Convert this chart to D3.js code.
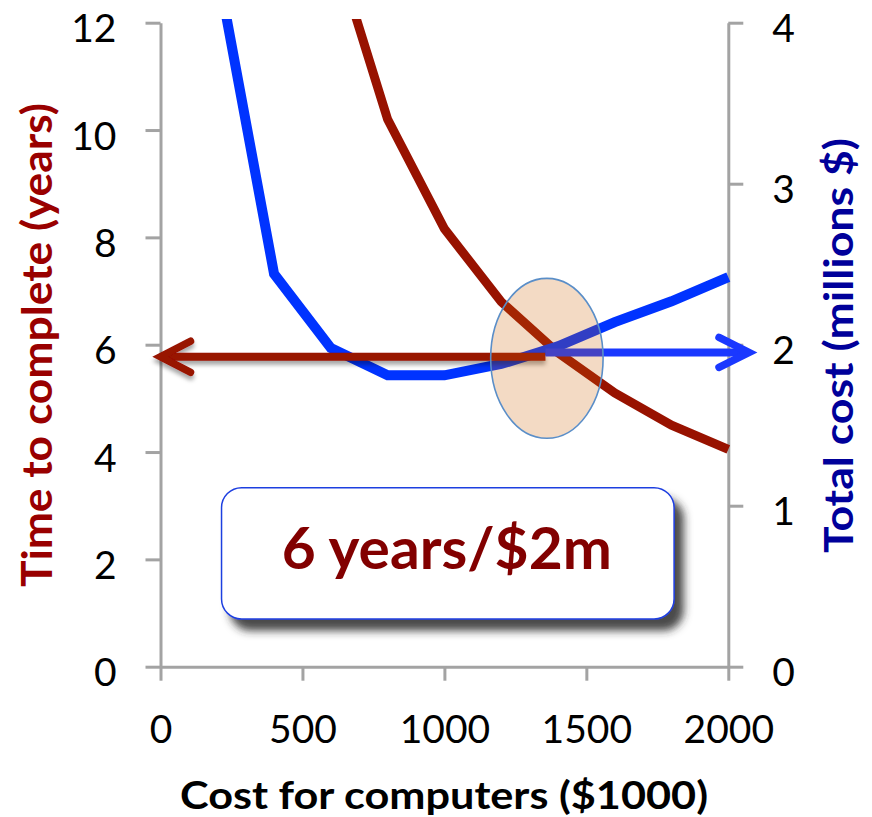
<!DOCTYPE html>
<html>
<head>
<meta charset="utf-8">
<script src="https://cdn.jsdelivr.net/npm/d3@7"></script>
<style>
  html, body { margin: 0; padding: 0; background: #ffffff; }
  svg { display: block; }
  text { font-family: Lato, "Open Sans", "Noto Sans", sans-serif; }
</style>
</head>
<body>
<svg id="chart" width="872" height="817"></svg>
<script>
// Spending on computers vs. time to finish and total project cost
const computerCost = [200, 400, 600, 800, 1000, 1200, 1400, 1600, 1800, 2000];   // $1000
const timeYears    = [null, null, 13.6, 10.2, 8.16, 6.8, 5.85, 5.1, 4.5, 4.05];   // years
const totalCost    = [4.34, 2.44, 1.98, 1.81, 1.81, 1.88, 1.99, 2.14, 2.27, 2.42]; // millions $

const xTicks     = [0, 500, 1000, 1500, 2000];
const leftTicks  = [0, 2, 4, 6, 8, 10, 12];
const rightTicks = [0, 1, 2, 3, 4];

const xTitle     = "Cost for computers ($1000)";
const leftTitle  = "Time to complete (years)";
const rightTitle = "Total cost (millions $)";
const callout    = "6 years/$2m";

// Operating point annotations (data units)
const redArrow   = { from: 1356, to: 0, years: 5.776 };
const blueArrow  = { from: 1356, to: 2073, cost: 1.952 };
const highlight  = { cx: 1361, cy: 5.746, rx: 198, ry: 1.49 };
const calloutBox = { x0: 215, x1: 1809, top: 3.335, bottom: 0.889 };

const svg = d3.select("#chart");

const x  = d3.scaleLinear().domain([0, 2000]).range([160.5, 728.3]);
const yL = d3.scaleLinear().domain([0, 12]).range([666.7, 22.7]);
const yR = d3.scaleLinear().domain([0, 4]).range([666.7, 22.7]);

const defs = svg.append("defs");
defs.append("clipPath").attr("id", "plotClip")
  .append("rect").attr("x", 150).attr("y", 19).attr("width", 600).attr("height", 660);

const boxShadow = defs.append("filter").attr("id", "boxShadow")
  .attr("x", "-10%").attr("y", "-20%").attr("width", "130%").attr("height", "150%");
boxShadow.append("feDropShadow").attr("dx", 9).attr("dy", 11).attr("stdDeviation", 4.5)
  .attr("flood-color", "#2a2a2a").attr("flood-opacity", 0.85);

const arrowShadow = defs.append("filter").attr("id", "arrowShadow")
  .attr("x", "-5%").attr("y", "-100%").attr("width", "110%").attr("height", "400%");
arrowShadow.append("feDropShadow").attr("dx", 0).attr("dy", 4).attr("stdDeviation", 2.2)
  .attr("flood-color", "#000").attr("flood-opacity", 0.35);

// Axes
const axisColor = "#a3a3a3";
function styleAxis(g) {
  g.selectAll("path.domain").attr("stroke", axisColor).attr("stroke-width", 3);
  g.selectAll(".tick line").attr("stroke", axisColor).attr("stroke-width", 3);
  g.selectAll(".tick text").attr("fill", "#000").style("font-size", "39px")
    .style("font-family", "Lato, 'Open Sans', sans-serif");
}

svg.append("g").attr("transform", "translate(0,666.7)")
  .call(d3.axisBottom(x).tickValues(xTicks).tickFormat(d3.format("d"))
    .tickSize(14).tickSizeOuter(0).tickPadding(35))
  .call(styleAxis);

const gl = svg.append("g").attr("transform", "translate(160.5,0)")
  .call(d3.axisLeft(yL).tickValues(leftTicks).tickFormat(d3.format("d"))
    .tickSize(15).tickSizeOuter(0).tickPadding(29))
  .call(styleAxis);
gl.selectAll(".tick text").attr("dy", "0.49em");

const gr = svg.append("g").attr("transform", "translate(728.3,0)")
  .call(d3.axisRight(yR).tickValues(rightTicks).tickFormat(d3.format("d"))
    .tickSize(15).tickSizeOuter(0).tickPadding(29))
  .call(styleAxis);
gr.selectAll(".tick text").attr("dy", "0.49em");

// Axis titles
svg.append("text")
  .attr("transform", "translate(52,345) rotate(-90)")
  .attr("text-anchor", "middle")
  .attr("fill", "#990000").style("font-weight", 700).style("font-size", "42px")
  .attr("textLength", 484).attr("lengthAdjust", "spacingAndGlyphs")
  .text(leftTitle);

svg.append("text")
  .attr("transform", "translate(853,345.5) rotate(-90)")
  .attr("text-anchor", "middle")
  .attr("fill", "#00009a").style("font-weight", 700).style("font-size", "41px")
  .attr("textLength", 415).attr("lengthAdjust", "spacingAndGlyphs")
  .text(rightTitle);

svg.append("text")
  .attr("x", 444).attr("y", 808.5)
  .attr("text-anchor", "middle")
  .attr("fill", "#000").style("font-weight", 700).style("font-size", "39px")
  .attr("textLength", 528).attr("lengthAdjust", "spacingAndGlyphs")
  .text(xTitle);

// Series lines
const plot = svg.append("g").attr("clip-path", "url(#plotClip)");

const timeLine = d3.line()
  .defined((d, i) => timeYears[i] != null)
  .x((d, i) => x(computerCost[i]))
  .y((d, i) => yL(timeYears[i]));

const costLine = d3.line()
  .x((d, i) => x(computerCost[i]))
  .y((d, i) => yR(totalCost[i]));

plot.append("path").datum(computerCost)
  .attr("d", timeLine)
  .attr("fill", "none").attr("stroke", "#981200").attr("stroke-width", 9)
  .attr("stroke-linejoin", "miter");

plot.append("path").datum(computerCost)
  .attr("d", costLine)
  .attr("fill", "none").attr("stroke", "#0033ff").attr("stroke-width", 10)
  .attr("stroke-linejoin", "miter");

// Arrows from the operating point to each axis
const ay = yL(redArrow.years);
const redG = svg.append("g").attr("filter", "url(#arrowShadow)");
redG.append("line")
  .attr("x1", x(redArrow.from)).attr("x2", x(redArrow.to) + 3)
  .attr("y1", ay).attr("y2", ay)
  .attr("stroke", "#981200").attr("stroke-width", 8);
redG.append("path")
  .attr("d", `M${x(redArrow.to) + 30},${ay - 15.5} L${x(redArrow.to)},${ay} L${x(redArrow.to) + 30},${ay + 15.5}`)
  .attr("fill", "none").attr("stroke", "#981200").attr("stroke-width", 7.5)
  .attr("stroke-linecap", "round").attr("stroke-linejoin", "miter");

const by = yR(blueArrow.cost);
const blueG = svg.append("g");
blueG.append("line")
  .attr("x1", x(blueArrow.from)).attr("x2", x(blueArrow.to) - 3)
  .attr("y1", by).attr("y2", by)
  .attr("stroke", "#1a38ff").attr("stroke-width", 8);
blueG.append("path")
  .attr("d", `M${x(blueArrow.to) - 30},${by - 15} L${x(blueArrow.to)},${by} L${x(blueArrow.to) - 30},${by + 15}`)
  .attr("fill", "none").attr("stroke", "#1a38ff").attr("stroke-width", 7.5)
  .attr("stroke-linecap", "round").attr("stroke-linejoin", "miter");

// Highlight around the operating point (translucent orange wash)
const ecx = x(highlight.cx), ecy = yL(highlight.cy);
const erx = x(highlight.cx + highlight.rx) - ecx;
const ery = yL(highlight.cy - highlight.ry) - ecy;
svg.append("ellipse")
  .attr("cx", ecx).attr("cy", ecy).attr("rx", erx).attr("ry", ery)
  .attr("fill", "rgb(205,100,10)").attr("fill-opacity", 0.24)
  .attr("stroke", "#5a8ec8").attr("stroke-width", 1.6);

// Callout box
const bx0 = x(calloutBox.x0), bx1 = x(calloutBox.x1);
const by0 = yL(calloutBox.top), by1 = yL(calloutBox.bottom);
svg.append("rect")
  .attr("x", bx0).attr("y", by0).attr("width", bx1 - bx0).attr("height", by1 - by0)
  .attr("rx", 20).attr("ry", 20)
  .attr("fill", "#ffffff").attr("stroke", "#1f3fe0").attr("stroke-width", 1.5)
  .attr("filter", "url(#boxShadow)");

svg.append("text")
  .attr("x", (bx0 + bx1) / 2 - 1).attr("y", by0 + 81.5)
  .attr("text-anchor", "middle")
  .attr("fill", "#820000").style("font-weight", 700).style("font-size", "57px")
  .attr("textLength", 330).attr("lengthAdjust", "spacingAndGlyphs")
  .text(callout);
</script>
</body>
</html>
